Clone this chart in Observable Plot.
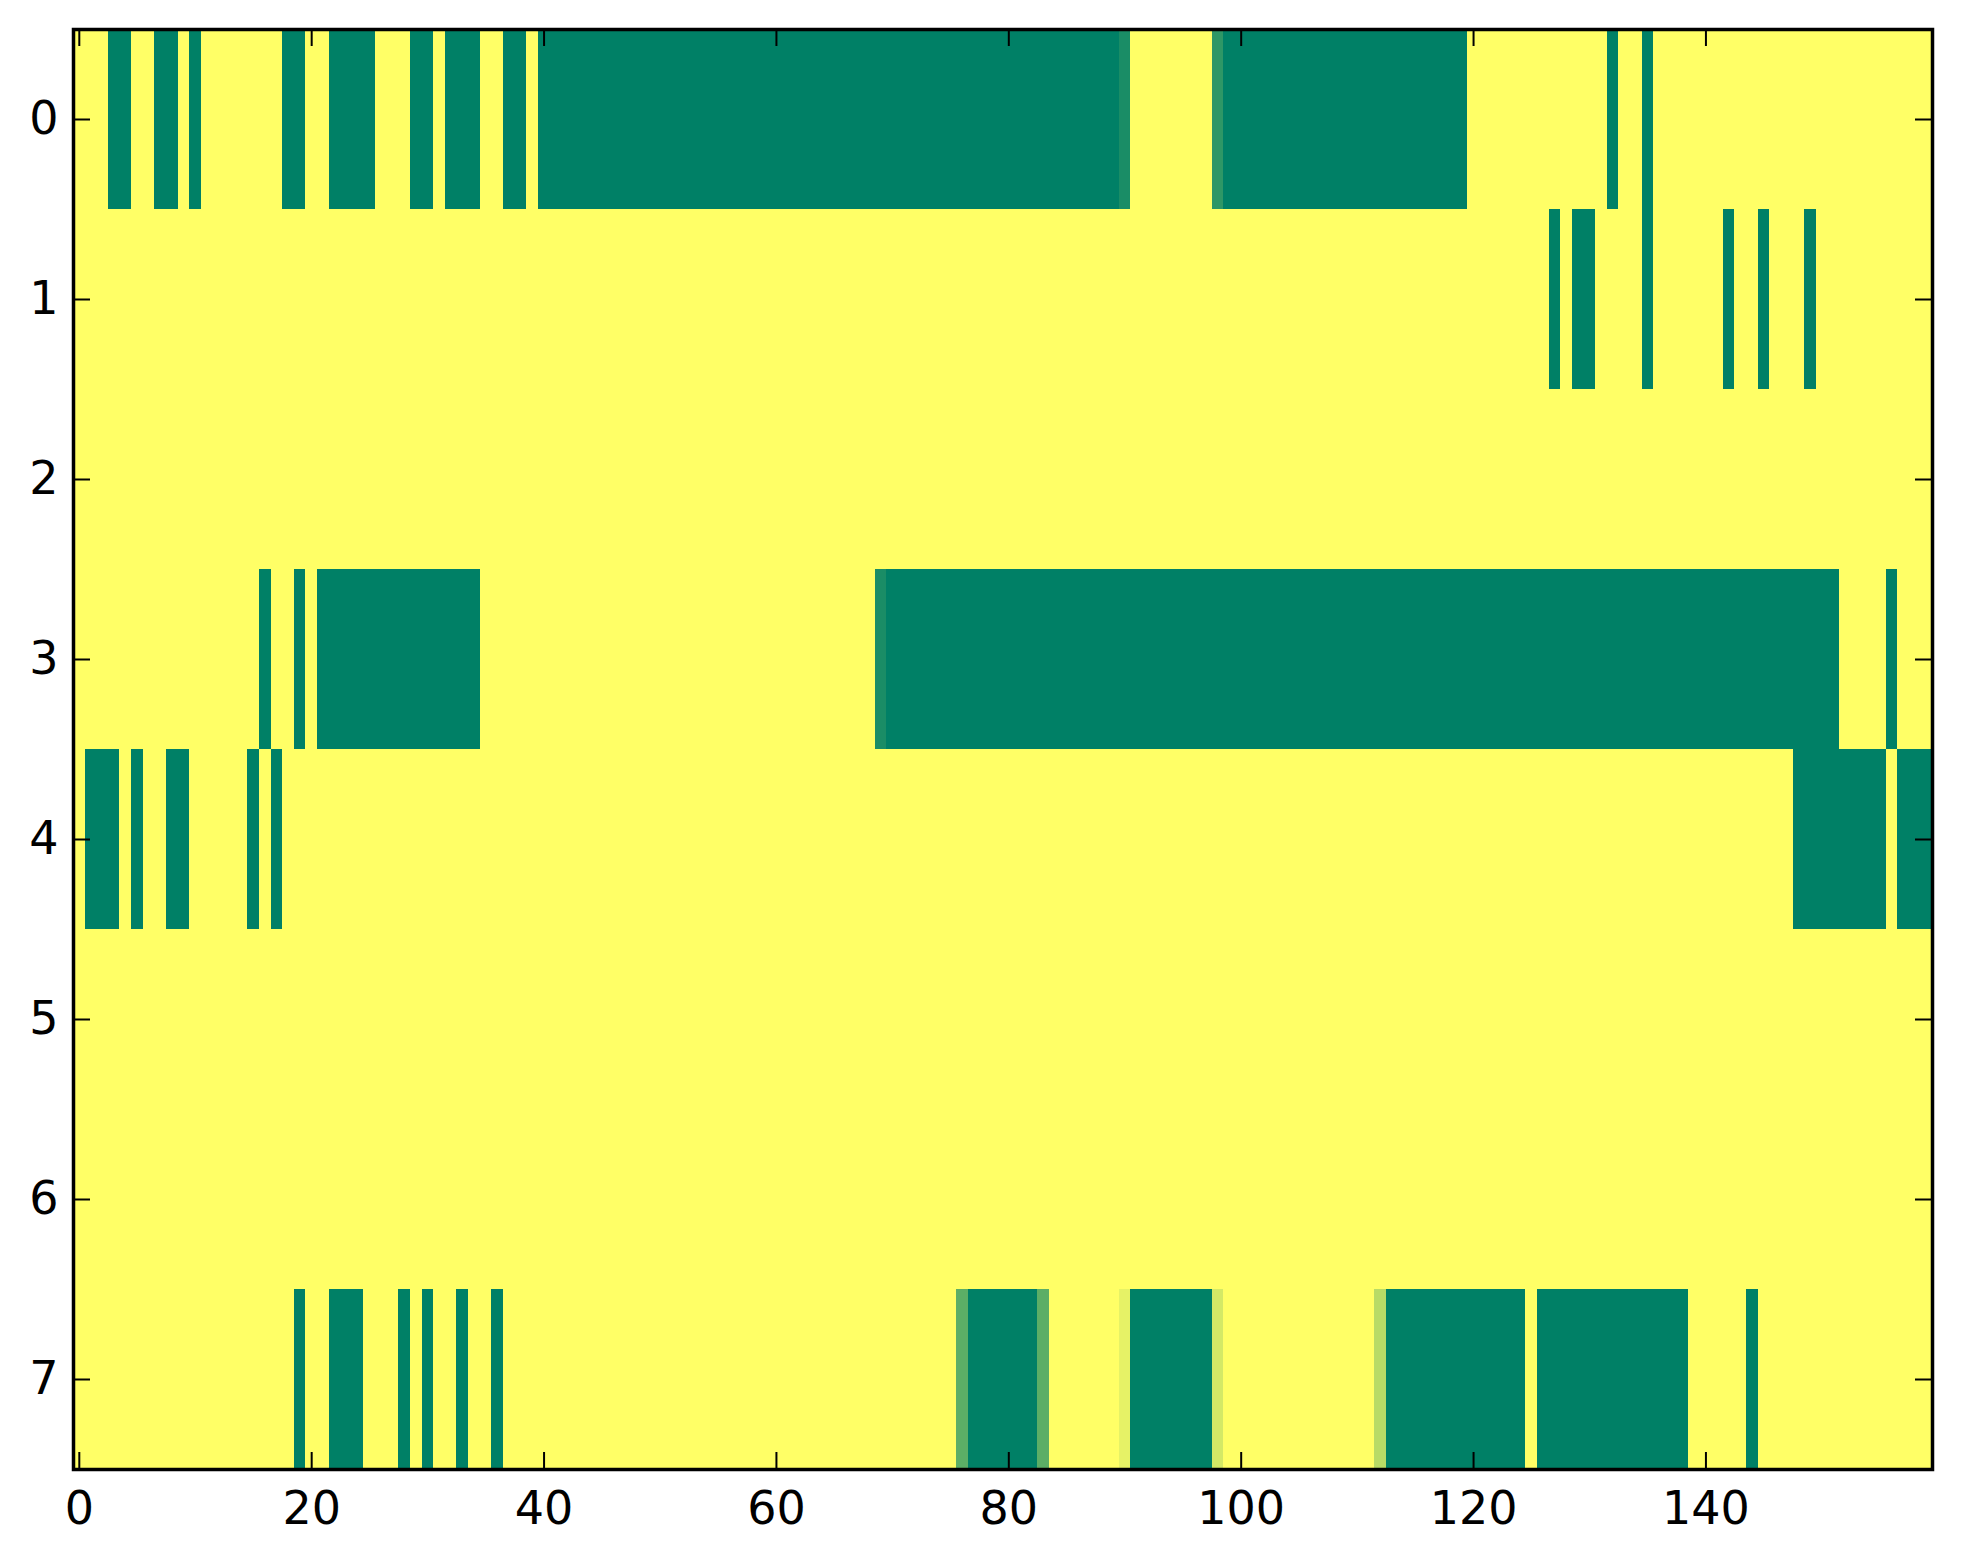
<!DOCTYPE html>
<html>
<head>
<meta charset="utf-8">
<script src="https://cdn.jsdelivr.net/npm/d3@7"></script>
<script src="https://cdn.jsdelivr.net/npm/@observablehq/plot@0.6"></script>
<style>
  html, body { margin: 0; padding: 0; background: #fff; }
  svg { display: block; }
</style>
</head>
<body>
<div id="chart"></div>
<script>
// Row indices (y tick labels) and x tick labels
const rowLabels = [0, 1, 2, 3, 4, 5, 6, 7];
const xTicks = [0, 20, 40, 60, 80, 100, 120, 140];

// Cell values: one character per column (160 columns), groups of 10.
// "0" = 0 (green), "1" = 1 (yellow), letters = intermediate values below.
const shades = { "0": 0, "1": 1, a: 0.1, b: 0.18, c: 0.36, d: 0.72, e: 0.83, f: 0.9 };

const row0 = "1110011001 0111111100 1100001110 0100011001 0000000000 0000000000 0000000000 0000000000 0000000000 a1111111b0 0000000000 0000000000 1111111111 1101101111 1111111111 1111111111";
const row1 = "1111111111 1111111111 1111111111 1111111111 1111111111 1111111111 1111111111 1111111111 1111111111 1111111111 1111111111 1111111111 1111111010 0111101111 1101101110 1111111111";
const row2 = "1111111111 1111111111 1111111111 1111111111 1111111111 1111111111 1111111111 1111111111 1111111111 1111111111 1111111111 1111111111 1111111111 1111111111 1111111111 1111111111";
const row3 = "1111111111 1111110110 1000000000 0000011111 1111111111 1111111111 111111111a 0000000000 0000000000 0000000000 0000000000 0000000000 0000000000 0000000000 0000000000 0011110111";
const row4 = "1000101100 1111101011 1111111111 1111111111 1111111111 1111111111 1111111111 1111111111 1111111111 1111111111 1111111111 1111111111 1111111111 1111111111 1111111100 0000001000";
const row5 = "1111111111 1111111111 1111111111 1111111111 1111111111 1111111111 1111111111 1111111111 1111111111 1111111111 1111111111 1111111111 1111111111 1111111111 1111111111 1111111111";
const row6 = "1111111111 1111111111 1111111111 1111111111 1111111111 1111111111 1111111111 1111111111 1111111111 1111111111 1111111111 1111111111 1111111111 1111111111 1111111111 1111111111";
const row7 = "1111111111 1111111110 1100011101 0110110111 1111111111 1111111111 1111111111 111111c000 000c111111 f0000000e1 1111111111 11d0000000 0000010000 0000000001 1111011111 1111111111";

const rows = [row0, row1, row2, row3, row4, row5, row6, row7];

const cells = rows.flatMap((s, r) =>
  Array.from(s.replace(/ /g, ""), (ch, c) => ({ row: r, col: c, value: shades[ch] }))
);

const W = 1963, H = 1564;
const mL = 73, mR = 31, mT = 29, mB = 95;
const innerW = W - mL - mR, innerH = H - mT - mB;
const tickLen = 17;

const chart = Plot.plot({
  width: W,
  height: H,
  marginLeft: mL,
  marginRight: mR,
  marginTop: mT,
  marginBottom: mB,
  style: { fontFamily: "DejaVu Sans", fontSize: "46px", background: "white", color: "black" },
  x: { domain: [-0.5, 159.5] },
  y: { domain: [-0.5, 7.5], reverse: true },
  color: { type: "linear", domain: [0, 1], range: ["#008066", "#ffff66"], interpolate: "rgb" },
  marks: [
    Plot.rect(cells, {
      x1: d => d.col - 0.5,
      x2: d => d.col + 0.5,
      y1: d => d.row - 0.5,
      y2: d => d.row + 0.5,
      fill: "value",
      shapeRendering: "crispEdges"
    }),
    Plot.tickX(xTicks, { x: d => d, insetBottom: innerH - tickLen, stroke: "black", strokeWidth: 2 }),
    Plot.tickX(xTicks, { x: d => d, insetTop: innerH - tickLen, stroke: "black", strokeWidth: 2 }),
    Plot.tickY(rowLabels, { y: d => d, insetRight: innerW - tickLen, stroke: "black", strokeWidth: 2 }),
    Plot.tickY(rowLabels, { y: d => d, insetLeft: innerW - tickLen, stroke: "black", strokeWidth: 2 }),
    Plot.axisX({ ticks: xTicks, tickSize: 0, tickPadding: 22, label: null }),
    Plot.axisY({ ticks: rowLabels, tickSize: 0, tickPadding: 15, label: null }),
    Plot.frame({ stroke: "black", strokeWidth: 3.5 })
  ]
});

document.getElementById("chart").appendChild(chart);
</script>
</body>
</html>
